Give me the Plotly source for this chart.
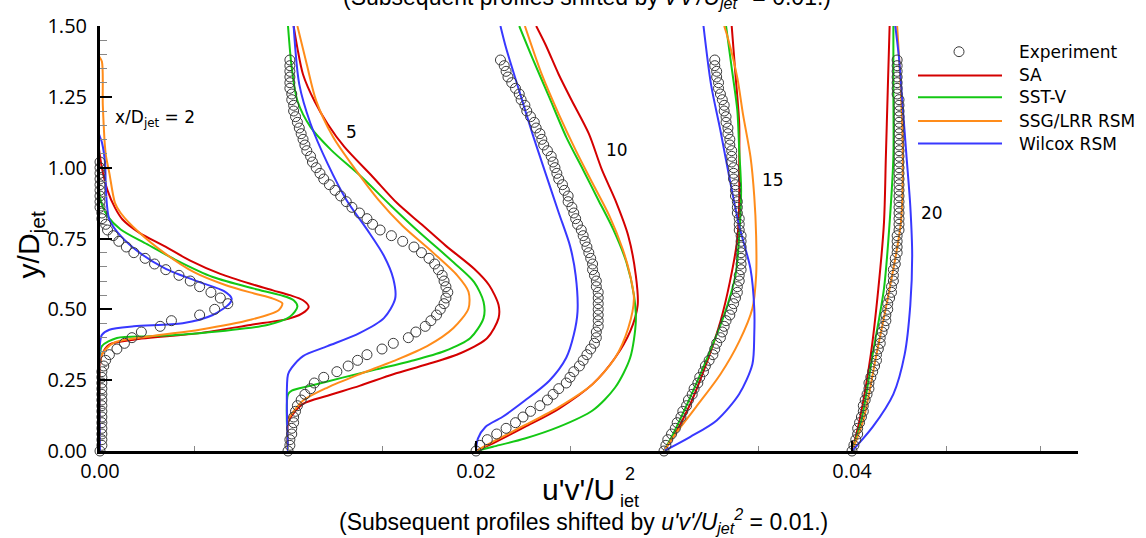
import plotly.graph_objects as go

# ---------------- data ----------------
# streamwise stations (x/D_jet) and the horizontal offset applied to each profile
stations = [2, 5, 10, 15, 20]
shifts = [0.00, 0.01, 0.02, 0.03, 0.04]

# experimental y/D_jet sampling (shared by all stations)
y_exp = [0.00, 0.02, 0.04, 0.06, 0.08, 0.10, 0.12, 0.14, 0.16, 0.18,
         0.20, 0.22, 0.24, 0.26, 0.28, 0.30, 0.32, 0.34, 0.36, 0.38,
         0.40, 0.42, 0.44, 0.46, 0.48, 0.50, 0.52, 0.54, 0.56, 0.58,
         0.60, 0.62, 0.64, 0.66, 0.68, 0.70, 0.72, 0.74, 0.76, 0.78,
         0.80, 0.82, 0.84, 0.86, 0.88, 0.90, 0.92, 0.94, 0.96, 0.98,
         1.00, 1.02, 1.04, 1.06, 1.08, 1.10, 1.12, 1.14, 1.16, 1.18,
         1.20, 1.22, 1.24, 1.26, 1.28, 1.30, 1.32, 1.34, 1.36, 1.38]

# experimental u'v'/U_jet^2 (unshifted) per station
exp_x2 = [0.0000, 0.0001, 0.0001, 0.0001, 0.0001, 0.0001, 0.0001, 0.0001, 0.0001, 0.0001,
          0.0001, 0.0001, 0.0001, 0.0001, 0.0001, 0.0002, 0.0003, 0.0005, 0.0009, 0.0013,
          0.0017, 0.0022, 0.0032, 0.0038, 0.0053, 0.0061, 0.0068, 0.0064, 0.0059, 0.0053,
          0.0048, 0.0042, 0.0035, 0.0029, 0.0024, 0.0018, 0.0014, 0.0010, 0.0007, 0.0004,
          0.0003, 0.0001, 0.0001, 0.0000, 0.0000, 0.0000, 0.0000, 0.0000, 0.0000, 0.0000,
          0.0000, 0.0000]
exp_x5 = [0.0000, 0.0001, 0.0001, 0.0002, 0.0002, 0.0003, 0.0003, 0.0004, 0.0005, 0.0007,
          0.0009, 0.0012, 0.0014, 0.0019, 0.0026, 0.0032, 0.0037, 0.0042, 0.0050, 0.0056,
          0.0064, 0.0068, 0.0073, 0.0076, 0.0079, 0.0081, 0.0083, 0.0084, 0.0085, 0.0084,
          0.0083, 0.0082, 0.0080, 0.0078, 0.0075, 0.0071, 0.0067, 0.0061, 0.0055, 0.0049,
          0.0045, 0.0042, 0.0038, 0.0034, 0.0031, 0.0028, 0.0025, 0.0022, 0.0019, 0.0017,
          0.0015, 0.0013, 0.0012, 0.0010, 0.0009, 0.0008, 0.0007, 0.0006, 0.0005, 0.0004,
          0.0003, 0.0003, 0.0002, 0.0002, 0.0001, 0.0001, 0.0001, 0.0001, 0.0001, 0.0001]
exp_x10 = [0.0000, 0.0002, 0.0006, 0.0011, 0.0016, 0.0021, 0.0025, 0.0029, 0.0034, 0.0038,
           0.0041, 0.0044, 0.0048, 0.0050, 0.0052, 0.0055, 0.0057, 0.0059, 0.0061, 0.0063,
           0.0064, 0.0064, 0.0065, 0.0065, 0.0065, 0.0065, 0.0065, 0.0065, 0.0065, 0.0064,
           0.0064, 0.0063, 0.0062, 0.0062, 0.0061, 0.0060, 0.0059, 0.0058, 0.0057, 0.0056,
           0.0054, 0.0053, 0.0052, 0.0051, 0.0049, 0.0049, 0.0047, 0.0046, 0.0044, 0.0043,
           0.0042, 0.0041, 0.0040, 0.0038, 0.0036, 0.0035, 0.0034, 0.0032, 0.0031, 0.0029,
           0.0027, 0.0026, 0.0024, 0.0023, 0.0021, 0.0019, 0.0017, 0.0016, 0.0015, 0.0013]
exp_x15 = [0.0000, 0.0001, 0.0002, 0.0004, 0.0006, 0.0007, 0.0009, 0.0010, 0.0012, 0.0013,
           0.0015, 0.0016, 0.0018, 0.0019, 0.0021, 0.0022, 0.0024, 0.0026, 0.0027, 0.0028,
           0.0030, 0.0031, 0.0032, 0.0033, 0.0035, 0.0036, 0.0037, 0.0038, 0.0039, 0.0039,
           0.0040, 0.0040, 0.0041, 0.0041, 0.0041, 0.0041, 0.0041, 0.0041, 0.0041, 0.0040,
           0.0040, 0.0040, 0.0039, 0.0039, 0.0039, 0.0038, 0.0038, 0.0038, 0.0037, 0.0037,
           0.0037, 0.0036, 0.0036, 0.0036, 0.0035, 0.0035, 0.0034, 0.0034, 0.0033, 0.0033,
           0.0032, 0.0032, 0.0031, 0.0030, 0.0029, 0.0029, 0.0028, 0.0028, 0.0027, 0.0027]
exp_x20 = [0.0000, 0.0001, 0.0002, 0.0003, 0.0003, 0.0004, 0.0005, 0.0006, 0.0006, 0.0007,
           0.0008, 0.0009, 0.0009, 0.0010, 0.0011, 0.0012, 0.0013, 0.0013, 0.0014, 0.0015,
           0.0015, 0.0016, 0.0017, 0.0018, 0.0018, 0.0019, 0.0019, 0.0020, 0.0021, 0.0021,
           0.0022, 0.0022, 0.0022, 0.0023, 0.0023, 0.0024, 0.0024, 0.0024, 0.0024, 0.0025,
           0.0025, 0.0025, 0.0025, 0.0025, 0.0025, 0.0025, 0.0025, 0.0025, 0.0025, 0.0025,
           0.0025, 0.0025, 0.0025, 0.0025, 0.0025, 0.0025, 0.0025, 0.0025, 0.0025, 0.0025,
           0.0025, 0.0025, 0.0025, 0.0024, 0.0024, 0.0024, 0.0024, 0.0024, 0.0024, 0.0024]
exp_profiles = [exp_x2, exp_x5, exp_x10, exp_x15, exp_x20]

# ---- SA ----
sa_y2 = [0, 0.30, 0.34, 0.376, 0.393, 0.416, 0.445, 0.468, 0.492, 0.509, 0.532, 0.55, 0.567, 0.59,
         0.625, 0.672, 0.724, 0.77, 0.817, 0.858, 0.92, 1.0, 1.1, 1.5]
sa_x2 = [0, 0, 0.0001, 0.0005, 0.0018, 0.0053, 0.0080, 0.0101, 0.0109, 0.0111, 0.0108, 0.0101,
         0.0092, 0.0080, 0.0064, 0.0048, 0.0034, 0.0021, 0.0012, 0.0008, 0.0004, 0.0001, -0.0001, -0.0001]
sa_y5 = [0, 0.10, 0.125, 0.166, 0.195, 0.23, 0.271, 0.306, 0.346, 0.399, 0.469, 0.515, 0.585, 0.643,
         0.724, 0.80, 0.875, 0.968, 1.073, 1.155, 1.236, 1.329, 1.422, 1.5]
sa_x5 = [0, 0, 0.0002, 0.0008, 0.0021, 0.0038, 0.0056, 0.0074, 0.0092, 0.0106, 0.0112, 0.0112,
         0.0107, 0.0099, 0.0084, 0.0071, 0.0058, 0.0045, 0.0030, 0.0021, 0.0014, 0.0008, 0.0005, 0.0003]
sa_y10 = [0, 0.027, 0.085, 0.149, 0.236, 0.329, 0.422, 0.515, 0.62, 0.759, 0.887, 0.992, 1.12,
          1.236, 1.329, 1.434, 1.5]
sa_x10 = [0, 0.0009, 0.0026, 0.0044, 0.0062, 0.0074, 0.0082, 0.0086, 0.0085, 0.0081, 0.0074,
          0.0067, 0.0060, 0.0051, 0.0044, 0.0037, 0.0032]
sa_y15 = [0, 0.05, 0.166, 0.317, 0.457, 0.596, 0.748, 0.875, 1.003, 1.155, 1.329, 1.5]
sa_x15 = [0, 0.0005, 0.0014, 0.0023, 0.0030, 0.0035, 0.0039, 0.0040, 0.0040, 0.0040, 0.0038, 0.0036]
sa_y20 = [0, 0.108, 0.341, 0.573, 0.806, 1.038, 1.271, 1.5]
sa_x20 = [0, 0.0004, 0.0010, 0.0014, 0.0017, 0.0018, 0.0019, 0.0020]

# ---- SST-V ----
sst_y2 = [0, 0.33, 0.37, 0.399, 0.405, 0.416, 0.445, 0.474, 0.509, 0.532, 0.55, 0.573, 0.614,
          0.672, 0.73, 0.782, 0.829, 0.87, 0.95, 1.05, 1.5]
sst_x2 = [0, 0, 0.0001, 0.0009, 0.0027, 0.0053, 0.0089, 0.0101, 0.0105, 0.0103, 0.0096, 0.0082,
          0.0060, 0.0041, 0.0025, 0.0011, 0.0004, 0.0001, -0.0001, -0.0001, -0.0001]
sst_y5 = [0, 0.20, 0.213, 0.23, 0.259, 0.288, 0.317, 0.352, 0.399, 0.469, 0.527, 0.596, 0.666,
          0.771, 0.864, 0.968, 1.062, 1.143, 1.236, 1.352, 1.5]
sst_x5 = [0, 0, 0.0002, 0.0012, 0.0029, 0.0047, 0.0065, 0.0083, 0.0097, 0.0104, 0.0104, 0.0099,
          0.0088, 0.0070, 0.0055, 0.0039, 0.0023, 0.0012, 0.0005, 0.0002, 0.0000]
sst_y10 = [0, 0.015, 0.044, 0.085, 0.143, 0.224, 0.329, 0.457, 0.55, 0.666, 0.782, 0.887, 0.992,
           1.108, 1.248, 1.387, 1.5]
sst_x10 = [0, 0.0009, 0.0026, 0.0044, 0.0062, 0.0074, 0.0082, 0.0085, 0.0084, 0.0080, 0.0073,
           0.0065, 0.0057, 0.0048, 0.0039, 0.0030, 0.0023]
sst_y15 = [0, 0.062, 0.19, 0.329, 0.48, 0.62, 0.759, 0.922, 1.062, 1.201, 1.352, 1.5]
sst_x15 = [0, 0.0005, 0.0014, 0.0023, 0.0032, 0.0038, 0.0040, 0.0041, 0.0040, 0.0039, 0.0036, 0.0033]
sst_y20 = [0, 0.108, 0.341, 0.573, 0.806, 1.038, 1.271, 1.5]
sst_x20 = [0, 0.0005, 0.0011, 0.0017, 0.0020, 0.0022, 0.0022, 0.0022]

# ---- SSG/LRR RSM ----
ssg_y2 = [0, 0.30, 0.34, 0.381, 0.405, 0.428, 0.463, 0.497, 0.521, 0.538, 0.556, 0.585, 0.631,
          0.70, 0.77, 0.84, 0.875, 0.98, 1.05, 1.22, 1.375, 1.40, 1.5]
ssg_x2 = [0, 0, 0.0001, 0.0007, 0.0027, 0.0053, 0.0080, 0.0095, 0.0097, 0.0092, 0.0082, 0.0067,
          0.0050, 0.0034, 0.0021, 0.0011, 0.0008, 0.0005, 0.0003, 0.00015, 0.0001, -0.0001, -0.0001]
ssg_y5 = [0, 0.11, 0.131, 0.178, 0.224, 0.271, 0.317, 0.37, 0.434, 0.503, 0.562, 0.62, 0.701,
          0.794, 0.887, 0.992, 1.108, 1.236, 1.364, 1.5]
ssg_x5 = [0, 0, 0.0002, 0.0008, 0.0021, 0.0038, 0.0056, 0.0074, 0.0088, 0.0096, 0.0096, 0.0090,
          0.0077, 0.0061, 0.0048, 0.0036, 0.0024, 0.0015, 0.0010, 0.0005]
ssg_y10 = [0, 0.033, 0.091, 0.155, 0.236, 0.329, 0.434, 0.538, 0.62, 0.713, 0.829, 0.945, 1.062,
           1.189, 1.329, 1.5]
ssg_x10 = [0, 0.0009, 0.0026, 0.0044, 0.0062, 0.0074, 0.0081, 0.0084, 0.0082, 0.0078, 0.0071,
           0.0062, 0.0053, 0.0044, 0.0035, 0.0026]
ssg_y15 = [0, 0.05, 0.155, 0.271, 0.387, 0.503, 0.62, 0.759, 0.899, 1.038, 1.189, 1.317, 1.457, 1.5]
ssg_x15 = [0, 0.0005, 0.0017, 0.0030, 0.0040, 0.0047, 0.0049, 0.0049, 0.0048, 0.0046, 0.0042,
           0.0039, 0.0034, 0.0032]
ssg_y20 = [0, 0.108, 0.341, 0.573, 0.806, 1.038, 1.271, 1.5]
ssg_x20 = [0, 0.0006, 0.0013, 0.0020, 0.0026, 0.0027, 0.0026, 0.0024]

# ---- Wilcox RSM ----
wil_y2 = [0, 0.38, 0.41, 0.428, 0.44, 0.451, 0.48, 0.521, 0.538, 0.564, 0.596, 0.643, 0.70,
          0.759, 0.817, 0.875, 0.95, 1.015, 1.09, 1.13, 1.5]
wil_x2 = [0, 0, 0.0001, 0.0005, 0.0018, 0.0044, 0.0060, 0.0069, 0.0070, 0.0066, 0.0053, 0.0035,
          0.0021, 0.0011, 0.0005, 0.00036, 0.0003, 0.00027, 0.0001, -0.0001, -0.0001]
wil_y5 = [0, 0.27, 0.294, 0.335, 0.37, 0.416, 0.469, 0.538, 0.608, 0.689, 0.782, 0.887, 1.015,
          1.155, 1.294, 1.5]
wil_x5 = [0, 0, 0.0002, 0.0008, 0.0021, 0.0038, 0.0051, 0.0057, 0.0056, 0.0051, 0.0042, 0.0031,
          0.0021, 0.0012, 0.0006, 0.0003]
wil_y10 = [0, 0.044, 0.085, 0.12, 0.178, 0.248, 0.329, 0.41, 0.492, 0.62, 0.724, 0.841, 0.98,
           1.12, 1.271, 1.422, 1.5]
wil_x10 = [0, 0.0001, 0.0005, 0.0014, 0.0026, 0.0039, 0.0048, 0.0052, 0.0054, 0.0053, 0.0050,
           0.0044, 0.0037, 0.0030, 0.0023, 0.0016, 0.0013]
wil_y15 = [0, 0.05, 0.108, 0.201, 0.306, 0.41, 0.503, 0.643, 0.794, 0.957, 1.131, 1.294, 1.5]
wil_x15 = [0, 0.0014, 0.0028, 0.0040, 0.0047, 0.0048, 0.0048, 0.0046, 0.0040, 0.0035, 0.0030,
           0.0025, 0.0021]
wil_y20 = [0, 0.085, 0.201, 0.341, 0.515, 0.689, 0.864, 1.038, 1.213, 1.387, 1.5]
wil_x20 = [0, 0.0011, 0.0022, 0.0028, 0.0031, 0.0032, 0.0031, 0.0029, 0.0027, 0.0025, 0.0023]

models = [
    ("SA", "#d40000", [(sa_y2, sa_x2), (sa_y5, sa_x5), (sa_y10, sa_x10), (sa_y15, sa_x15), (sa_y20, sa_x20)]),
    ("SST-V", "#14c814", [(sst_y2, sst_x2), (sst_y5, sst_x5), (sst_y10, sst_x10), (sst_y15, sst_x15), (sst_y20, sst_x20)]),
    ("SSG/LRR RSM", "#ff8c1a", [(ssg_y2, ssg_x2), (ssg_y5, ssg_x5), (ssg_y10, ssg_x10), (ssg_y15, ssg_x15), (ssg_y20, ssg_x20)]),
    ("Wilcox RSM", "#3838ff", [(wil_y2, wil_x2), (wil_y5, wil_x5), (wil_y10, wil_x10), (wil_y15, wil_x15), (wil_y20, wil_x20)]),
]

# ---------------- figure ----------------
W, H = 1146, 538
ML, MR, MT, MB = 100, 68, 21, 87
PW, PH = W - ML - MR, H - MT - MB
X_MAX = 0.05202

fig = go.Figure()

for name, color, profs in models:
    for (ys, xs), s in zip(profs, shifts):
        fig.add_trace(go.Scatter(
            x=[v + s for v in xs], y=ys, mode="lines",
            line=dict(color=color, width=2, shape="spline", smoothing=0.8),
            name=name, showlegend=False, hoverinfo="skip"))

for xs, s in zip(exp_profiles, shifts):
    fig.add_trace(go.Scatter(
        x=[v + s for v in xs], y=y_exp[:len(xs)], mode="markers",
        marker=dict(symbol="circle-open", size=10, color="#3a3a3a", line=dict(width=1)),
        cliponaxis=False, showlegend=False, hoverinfo="skip"))

tick_font = dict(family="Open Sans, DejaVu Sans, sans-serif", size=20, color="black")
fig.update_layout(
    width=W, height=H, margin=dict(l=ML, r=MR, t=MT, b=MB),
    paper_bgcolor="white", plot_bgcolor="white", showlegend=False,
    xaxis=dict(range=[0, X_MAX], showgrid=False, zeroline=False,
               showline=True, linecolor="black", linewidth=3,
               ticks="inside", ticklen=10, tickwidth=2, tickcolor="black",
               tick0=0, dtick=0.02, tickformat=".2f", tickfont=tick_font,
               minor=dict(ticks="inside", dtick=0.005, ticklen=5, tickwidth=1, tickcolor="#888")),
    yaxis=dict(range=[0, 1.5], showgrid=False, zeroline=False,
               showline=True, linecolor="black", linewidth=3,
               ticks="inside", ticklen=12, tickwidth=2, tickcolor="black",
               tick0=0, dtick=0.25, tickformat=".2f", tickfont=tick_font,
               ticklabelstandoff=6,
               minor=dict(ticks="inside", dtick=0.05, ticklen=7, tickwidth=1, tickcolor="#888")),
)


def px_to_paper(px, py):
    return (px - ML) / PW, (H - MB - py) / PH


def note(px, py, text, font, xanchor="center", yanchor="middle", **kw):
    ax, ay = px_to_paper(px, py)
    return dict(x=ax, y=ay, xref="paper", yref="paper", xanchor=xanchor, yanchor=yanchor,
                text=text, showarrow=False, font=font, **kw)


lbl_font = dict(family="DejaVu Sans, sans-serif", size=17, color="black")
ann = []
# station labels
ann.append(dict(x=0.0007, y=1.172, xref="x", yref="y", xanchor="left", yanchor="middle",
                text="x/D<sub>jet</sub> = 2", showarrow=False, font=lbl_font))
for txt, xv, yv in [("5", 0.01339, 1.125), ("10", 0.02748, 1.064),
                    ("15", 0.03582, 0.957), ("20", 0.04426, 0.84)]:
    ann.append(dict(x=xv, y=yv, xref="x", yref="y", xanchor="center", yanchor="middle",
                    text=txt, showarrow=False, font=lbl_font))

# axis titles
title_font = dict(family="Liberation Sans, Arial, sans-serif", size=30, color="black")
sub_font = dict(family="Liberation Sans, Arial, sans-serif", size=18, color="black")
ann.append(note(30, 243, "y/D<sub>jet</sub>", title_font, textangle=-90))
ann.append(note(617, 490, "u'v'/U", title_font, xanchor="right"))
ann.append(note(618, 502, "iet", sub_font, xanchor="left"))
ann.append(note(623, 474, "2", sub_font, xanchor="left"))

# captions
cap_font = dict(family="Liberation Sans, Arial, sans-serif", size=23, color="black")
ann.append(note(583, 522,
                "(Subsequent profiles shifted by <i>u'v'/U<sub>jet</sub><sup>2</sup></i> = 0.01.)",
                cap_font))
ann.append(note(587, 9,
                "(Subsequent profiles shifted by <i>v'v'/U<sub>jet</sub><sup>2</sup></i> = 0.01.)",
                cap_font, yanchor="bottom"))

# legend key
leg_font = dict(family="DejaVu Sans, sans-serif", size=17, color="black")
shapes = []
cx, cy = 959, 47
x0, y0 = px_to_paper(cx - 5, cy + 5)
x1, y1 = px_to_paper(cx + 5, cy - 5)
shapes.append(dict(type="circle", xref="paper", yref="paper", x0=x0, y0=y0, x1=x1, y1=y1,
                   line=dict(color="#3a3a3a", width=1)))
ann.append(note(1017, cy, "Experiment", leg_font, xanchor="left"))
for (name, color, _), ly in zip(models, [71, 93, 117, 140]):
    lx0, lyp = px_to_paper(918, ly)
    lx1, _ = px_to_paper(1002, ly)
    shapes.append(dict(type="line", xref="paper", yref="paper", x0=lx0, x1=lx1, y0=lyp, y1=lyp,
                       line=dict(color=color, width=2)))
    ann.append(note(1017, ly, name, leg_font, xanchor="left"))

fig.update_layout(annotations=ann, shapes=shapes)
fig.write_html("out.html")
